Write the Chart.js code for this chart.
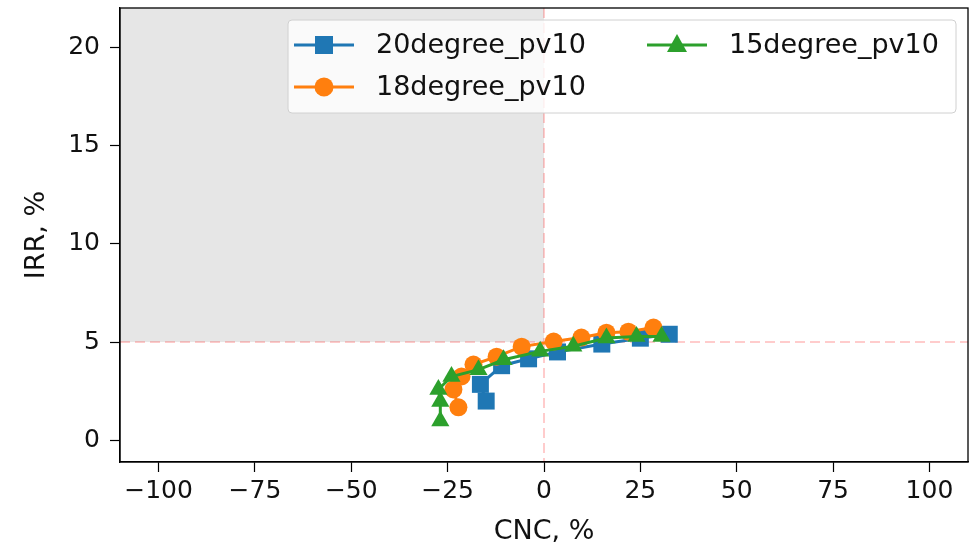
<!DOCTYPE html>
<html>
<head>
<meta charset="utf-8">
<script src="https://cdn.jsdelivr.net/npm/chart.js@4.4.1/dist/chart.umd.min.js"></script>
<style>
  html, body { margin: 0; padding: 0; background: #fff; }
  #wrap { width: 974px; height: 550px; }
</style>
</head>
<body>
<div id="wrap"><canvas id="chart" width="974" height="550"></canvas></div>
<script>
// IRR vs CNC, three tilt angles

const xTicks = [-100, -75, -50, -25, 0, 25, 50, 75, 100];
const yTicks = [0, 5, 10, 15, 20];

const cnc20 = [-15, -16.5, -11, -4, 3.5, 15, 25, 32.5];
const irr20 = [2.0, 2.85, 3.8, 4.15, 4.5, 4.9, 5.2, 5.4];

const cnc18 = [-22.2, -23.5, -21.4, -18.3, -12.3, -5.8, 2.5, 9.7, 16.2, 21.9, 28.4];
const irr18 = [1.68, 2.59, 3.25, 3.86, 4.26, 4.77, 5.03, 5.23, 5.48, 5.53, 5.74];

const cnc15 = [-26.9, -26.9, -27.4, -24, -17, -10.5, -1, 7.6, 16.2, 24, 30.5];
const irr15 = [0.98, 1.98, 2.59, 3.25, 3.6, 4.1, 4.53, 4.79, 5.21, 5.29, 5.29];

const labels = ["20degree_pv10", "18degree_pv10", "15degree_pv10"];

// thresholds (dashed lines + shaded quadrant)
const cncLimit = 0;
const irrLimit = 5;

const BLUE = "#1f77b4", ORANGE = "#ff7f0e", GREEN = "#2ca02c";
const FONT = "'DejaVu Sans', sans-serif";

function pts(xs, ys) {
  return xs.map((x, i) => ({ x: x, y: ys[i] }));
}

function fmtTick(v) {
  return v < 0 ? "\u2212" + Math.abs(v) : String(v);
}

// shaded area + dashed guide lines, under the data
const guides = {
  id: "guides",
  beforeDatasetsDraw(chart) {
    const { ctx, chartArea: a, scales: { x, y } } = chart;
    const px = x.getPixelForValue(cncLimit);
    const py = y.getPixelForValue(irrLimit);
    ctx.save();
    ctx.fillStyle = "rgba(128,128,128,0.2)";
    ctx.fillRect(a.left, a.top, px - a.left, py - a.top);
    ctx.strokeStyle = "rgba(255,0,0,0.2)";
    ctx.lineWidth = 2;
    ctx.setLineDash([10, 5]);
    ctx.beginPath();
    ctx.moveTo(px, a.top); ctx.lineTo(px, a.bottom);
    ctx.moveTo(a.left, py); ctx.lineTo(a.right, py);
    ctx.stroke();
    ctx.restore();
  },
  afterDraw(chart) {
    const { ctx, chartArea: a } = chart;
    ctx.save();
    ctx.strokeStyle = "#000";
    ctx.lineWidth = 1.3;
    ctx.strokeRect(a.left, a.top, a.right - a.left, a.bottom - a.top);
    ctx.restore();
  }
};

function marker(ctx, style, x, y, color) {
  ctx.fillStyle = color;
  ctx.beginPath();
  if (style === "rect") {
    ctx.rect(x - 9, y - 9, 18, 18);
  } else if (style === "circle") {
    ctx.arc(x, y, 9.5, 0, Math.PI * 2);
  } else {
    ctx.moveTo(x, y - 11);
    ctx.lineTo(x + 10, y + 7);
    ctx.lineTo(x - 10, y + 7);
    ctx.closePath();
  }
  ctx.fill();
}

// matplotlib-like legend in upper right, two columns
const legendBox = {
  id: "legendBox",
  afterDraw(chart) {
    const { ctx } = chart;
    const bx = 288, by = 20, bw = 668, bh = 93;
    ctx.save();
    ctx.fillStyle = "rgba(255,255,255,0.8)";
    ctx.strokeStyle = "#d0d0d0";
    ctx.lineWidth = 1;
    ctx.beginPath();
    ctx.roundRect(bx, by, bw, bh, 4);
    ctx.fill();
    ctx.stroke();

    const items = [
      { text: labels[0], color: BLUE, style: "rect", x: 294, y: 45 },
      { text: labels[1], color: ORANGE, style: "circle", x: 294, y: 87 },
      { text: labels[2], color: GREEN, style: "triangle", x: 647, y: 45 }
    ];
    ctx.font = "27px " + FONT;
    ctx.textBaseline = "middle";
    items.forEach(it => {
      ctx.strokeStyle = it.color;
      ctx.lineWidth = 3;
      ctx.beginPath();
      ctx.moveTo(it.x, it.y);
      ctx.lineTo(it.x + 60, it.y);
      ctx.stroke();
      marker(ctx, it.style, it.x + 30, it.y, it.color);
      ctx.fillStyle = "#111";
      ctx.fillText(it.text, it.x + 82, it.y + 1);
    });
    ctx.restore();
  }
};

function series(label, xs, ys, color, style, radius, order) {
  return {
    label: label,
    data: pts(xs, ys),
    showLine: true,
    borderColor: color,
    backgroundColor: color,
    borderWidth: 3,
    pointStyle: style,
    pointRadius: radius,
    pointHoverRadius: radius,
    pointBorderWidth: 0,
    tension: 0,
    order: order
  };
}

new Chart(document.getElementById("chart"), {
  type: "scatter",
  data: {
    datasets: [
      series(labels[0], cnc20, irr20, BLUE, "rect", 12, 3),
      series(labels[1], cnc18, irr18, ORANGE, "circle", 9, 2),
      series(labels[2], cnc15, irr15, GREEN, "triangle", 10.5, 1)
    ]
  },
  options: {
    responsive: false,
    animation: false,
    layout: { autoPadding: false, padding: { left: 0, right: 6, top: 8, bottom: 0 } },
    plugins: { legend: { display: false }, tooltip: { enabled: false } },
    scales: {
      x: {
        type: "linear",
        min: -110, max: 110,
        afterBuildTicks: s => { s.ticks = xTicks.map(v => ({ value: v })); },
        afterFit: s => { s.height = 88; s.paddingLeft = 0; s.paddingRight = 0; },
        grid: { drawOnChartArea: false, color: "#000", tickLength: 10, tickWidth: 1.2 },
        border: { color: "#000", width: 1.3 },
        ticks: { color: "#111", font: { family: FONT, size: 25 }, padding: 4, callback: fmtTick, maxRotation: 0 },
        title: { display: true, text: "CNC, %", color: "#111", font: { family: FONT, size: 27 }, padding: { bottom: 2 } }
      },
      y: {
        type: "linear",
        min: -1.1, max: 22,
        afterBuildTicks: s => { s.ticks = yTicks.map(v => ({ value: v })); },
        afterFit: s => { s.width = 120; s.paddingTop = 0; s.paddingBottom = 0; },
        grid: { drawOnChartArea: false, color: "#000", tickLength: 10, tickWidth: 1.2 },
        border: { color: "#000", width: 1.3 },
        ticks: { color: "#111", font: { family: FONT, size: 25 }, padding: 10, callback: fmtTick },
        title: { display: true, text: "IRR, %", color: "#111", font: { family: FONT, size: 27 }, padding: { top: 21 } }
      }
    }
  },
  plugins: [guides, legendBox]
});
</script>
</body>
</html>
